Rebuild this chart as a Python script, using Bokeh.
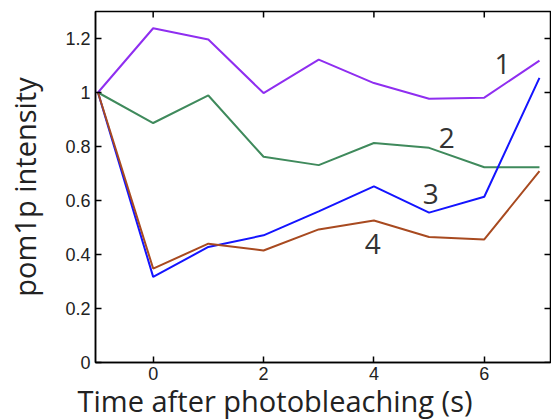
from bokeh.plotting import figure
from bokeh.models import Range1d, FixedTicker, CustomJSTickFormatter, Label, Title
from bokeh.embed import file_html
from bokeh.resources import INLINE

time = [-1, 0, 1, 2, 3, 4, 5, 6, 7]
cell1 = [1.0, 1.238, 1.196, 0.998, 1.122, 1.035, 0.977, 0.981, 1.118]
cell2 = [1.0, 0.887, 0.989, 0.762, 0.731, 0.813, 0.795, 0.723, 0.723]
cell3 = [1.0, 0.317, 0.428, 0.471, 0.560, 0.652, 0.555, 0.614, 1.054]
cell4 = [1.0, 0.348, 0.440, 0.415, 0.493, 0.526, 0.465, 0.456, 0.709]
series_labels = ["1", "2", "3", "4"]
label_x = [6.33, 5.32, 5.03, 3.98]
label_y = [1.104, 0.831, 0.624, 0.439]
x_ticks = [0, 2, 4, 6]
y_ticks = [0, 0.2, 0.4, 0.6, 0.8, 1.0, 1.2]
x_title = "Time after photobleaching (s)"
y_title = "pom1p intensity"
colors = ["#8F2EF0", "#3F8A5C", "#1414FF", "#A84A20"]

X0, X1, Y0, Y1 = -1.045, 7.2, 0.0, 1.3
W, H = 551, 420
BL, BR, BT, BB = 95, 1, 11, 58
FW, FH = W - BL - BR, H - BT - BB

p = figure(width=W, height=H, output_backend="svg", toolbar_location=None,
           x_range=Range1d(X0, X1), y_range=Range1d(Y0, Y1),
           min_border_left=BL, min_border_right=BR, min_border_top=BT, min_border_bottom=BB)
p.grid.visible = False
p.outline_line_color = "black"
p.outline_line_width = 1.5
p.background_fill_color = "white"
p.border_fill_color = "white"

fmt = CustomJSTickFormatter(code="return tick.toFixed(1).replace(/\\.0$/, '');")
for ax in p.xaxis + p.yaxis:
    ax.major_tick_in = 6
    ax.major_tick_out = 0
    ax.minor_tick_line_color = None
    ax.axis_line_width = 1.5
    ax.major_tick_line_width = 1.5
    ax.major_label_text_font = "Liberation Sans"
    ax.major_label_text_font_size = "18px"
    ax.major_label_text_color = "#222222"
p.xaxis.ticker = FixedTicker(ticks=x_ticks)
p.yaxis.ticker = FixedTicker(ticks=y_ticks)
p.yaxis.formatter = fmt
p.xaxis.major_label_standoff = 4
p.yaxis.major_label_standoff = 5
p.yaxis.axis_label = y_title
p.yaxis.axis_label_standoff = 18
p.yaxis.axis_label_text_font = "Open Sans"
p.yaxis.axis_label_text_font_style = "normal"
p.yaxis.axis_label_text_font_size = "29px"
p.yaxis.axis_label_text_color = "#222222"

p.add_layout(Title(text=x_title, align="left", offset=-18, standoff=-8,
                   text_font="Open Sans", text_font_style="normal", text_font_size="29px",
                   text_color="#222222"), "below")

# inward ticks on top and right edges (mirror of bottom/left axes)
tlen_y = 6 * (Y1 - Y0) / FH
tlen_x = 6 * (X1 - X0) / FW
p.segment(x0=x_ticks, y0=[Y1] * len(x_ticks), x1=x_ticks, y1=[Y1 - tlen_y] * len(x_ticks),
          line_color="black", line_width=1.5)
p.segment(x0=[X1] * len(y_ticks), y0=y_ticks, x1=[X1 - tlen_x] * len(y_ticks), y1=y_ticks,
          line_color="black", line_width=1.5)

for ys, c in zip([cell1, cell2, cell3, cell4], colors):
    p.line(time, ys, line_color=c, line_width=2)

for t, lx, ly in zip(series_labels, label_x, label_y):
    p.add_layout(Label(x=lx, y=ly, text=t, text_font="Open Sans", text_font_size="28px",
                       text_color="#333333", text_align="center", text_baseline="middle"))

open("out.html", "w").write(file_html(p, INLINE))
